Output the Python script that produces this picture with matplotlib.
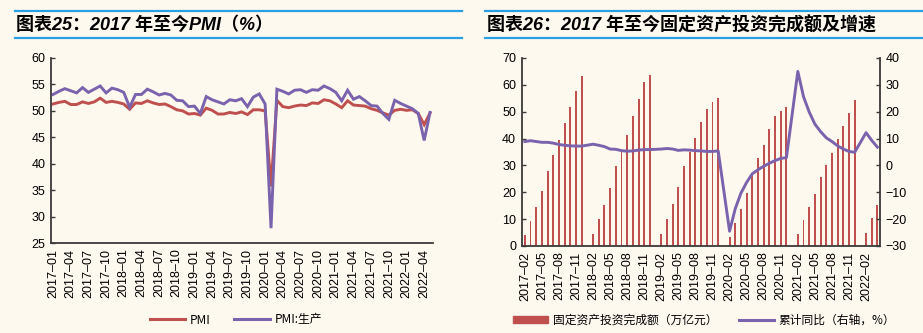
import numpy as np
import matplotlib.pyplot as plt
from matplotlib.lines import Line2D
from matplotlib.patches import Rectangle

CJK = ['Noto Sans CJK SC', 'DejaVu Sans']
TITLE_FONT = ['Liberation Sans', 'Noto Sans CJK SC']
plt.rcParams['font.family'] = ['Liberation Sans', 'DejaVu Sans']

# ---- PMI, monthly, 2017-01 .. 2022-05 ----
pmi = [51.3, 51.6, 51.8, 51.2, 51.2, 51.7, 51.4, 51.7, 52.4, 51.6, 51.8, 51.6,
       51.3, 50.3, 51.5, 51.4, 51.9, 51.5, 51.2, 51.3, 50.8, 50.2, 50.0, 49.4,
       49.5, 49.2, 50.5, 50.1, 49.4, 49.4, 49.7, 49.5, 49.8, 49.3, 50.2, 50.2,
       50.0, 35.7, 52.0, 50.8, 50.6, 50.9, 51.1, 51.0, 51.5, 51.4, 52.1, 51.9,
       51.3, 50.6, 51.9, 51.1, 51.0, 50.9, 50.4, 50.1, 49.6, 49.2, 50.1, 50.3,
       50.1, 50.2, 49.5, 47.4, 49.6]
pmi_prod = [53.1, 53.7, 54.2, 53.8, 53.4, 54.4, 53.5, 54.1, 54.7, 53.4, 54.3, 54.0,
            53.5, 50.7, 53.1, 53.1, 54.1, 53.6, 53.0, 53.3, 53.0, 52.0, 51.9, 50.8,
            50.9, 49.5, 52.7, 52.1, 51.7, 51.3, 52.1, 51.9, 52.3, 50.8, 52.6, 53.2,
            51.3, 27.8, 54.1, 53.7, 53.2, 53.9, 54.0, 53.5, 54.0, 53.9, 54.7, 54.2,
            53.5, 51.9, 53.9, 52.2, 52.7, 51.9, 51.0, 50.9, 49.5, 48.4, 52.0, 51.4,
            50.9, 50.4, 49.5, 44.4, 49.7]
pmi_start_year = 2017

# ---- Fixed asset investment, cumulative (Feb..Dec each year; Jan not published) ----
fai_years = [2017, 2018, 2019, 2020, 2021, 2022]
fai_amount = {
    2017: [4.1, 9.4, 14.6, 20.4, 28.1, 33.8, 39.5, 45.8, 51.8, 57.6, 63.2],
    2018: [4.5, 10.1, 15.4, 21.6, 29.7, 35.2, 41.4, 48.3, 54.8, 61.0, 63.6],
    2019: [4.5, 10.2, 15.6, 21.8, 29.9, 35.1, 40.2, 46.3, 51.1, 53.6, 55.2],
    2020: [3.3, 8.5, 13.6, 19.9, 27.2, 32.9, 37.6, 43.7, 48.5, 50.1, 51.9],
    2021: [4.5, 9.6, 14.4, 19.4, 25.6, 30.3, 34.7, 39.8, 44.5, 49.5, 54.5],
    2022: [5.0, 10.5, 15.3],
}
fai_growth = {
    2017: [8.9, 9.2, 8.9, 8.6, 8.6, 8.3, 7.8, 7.5, 7.3, 7.2, 7.2],
    2018: [7.9, 7.5, 7.0, 6.1, 6.0, 5.5, 5.3, 5.4, 5.7, 5.9, 5.9],
    2019: [6.1, 6.3, 6.1, 5.6, 5.8, 5.7, 5.5, 5.4, 5.2, 5.2, 5.4],
    2020: [-24.5, -16.1, -10.3, -6.3, -3.1, -1.6, -0.3, 0.8, 1.8, 2.6, 2.9],
    2021: [35.0, 25.6, 19.9, 15.4, 12.6, 10.3, 8.9, 7.3, 6.1, 5.2, 4.9],
    2022: [12.2, 9.3, 6.8],
}

RED = '#C0504D'
PURPLE = '#7B62AC'
BG = '#FEF9EF'
SPINE = '#3A3A3A'
BLUE = '#2A9FE2'
TICK_SIZE = 9

fig = plt.figure(figsize=(9.23, 3.33), dpi=100, facecolor=BG)

def style_axes(ax, sides):
    ax.set_facecolor(BG)
    for s in ['left', 'right', 'top', 'bottom']:
        ax.spines[s].set_visible(s in sides)
        ax.spines[s].set_color(SPINE)
        ax.spines[s].set_linewidth(1.3)
    ax.tick_params(axis='y', direction='in', length=3, width=1, color=SPINE,
                   labelsize=TICK_SIZE, pad=4)
    ax.tick_params(axis='x', length=0, labelsize=TICK_SIZE, pad=4)

# ================= left panel: PMI =================
ax1 = fig.add_axes([51 / 923, 1 - 243 / 333, (433 - 51) / 923, (243 - 58) / 333])
style_axes(ax1, ['left', 'bottom'])
n = len(pmi)
x = np.arange(n)
labels = [f'{pmi_start_year + i // 12}–{i % 12 + 1:02d}' for i in range(n)]
ax1.plot(x, pmi, color=RED, lw=2.1, solid_joinstyle='miter')
ax1.plot(x, pmi_prod, color=PURPLE, lw=2.1, solid_joinstyle='miter')
ax1.set_ylim(25, 60)
ax1.set_yticks(np.arange(25, 61, 5))
ax1.set_xlim(-0.35, n - 0.5)
ticks = x[::3][:22]
ax1.set_xticks(ticks)
ax1.set_xticklabels([labels[i] for i in ticks], rotation=90)

# ================= right panel: fixed asset investment =================
ax2 = fig.add_axes([521.7 / 923, 1 - 246 / 333, (880 - 521.7) / 923, (246 - 58) / 333])
style_axes(ax2, ['left', 'bottom', 'right'])
amt, grw, lab = [], [], []
for yr in fai_years:
    months = [1] + list(range(2, 2 + len(fai_amount[yr])))
    if yr == fai_years[0]:
        months = months[1:]
    for m in months:
        lab.append(f'{yr}–{m:02d}')
        if m == 1:
            amt.append(np.nan)
            grw.append(np.nan)
        else:
            amt.append(fai_amount[yr][m - 2])
            grw.append(fai_growth[yr][m - 2])
amt = np.array(amt)
grw = np.array(grw)
xi = np.arange(len(amt))
ax2.bar(xi, amt, width=0.34, color=RED, zorder=2)
ax2.set_ylim(0, 70)
ax2.set_yticks(np.arange(0, 71, 10))
ax2.set_xlim(-0.55, len(amt) - 0.55)
t2 = xi[::3][:21]
ax2.set_xticks(t2)
ax2.set_xticklabels([lab[i] for i in t2], rotation=90)

ax3 = ax2.twinx()
for s in ['left', 'right', 'top', 'bottom']:
    ax3.spines[s].set_visible(False)
ok = ~np.isnan(grw)
ax3.plot(xi[ok], grw[ok], color=PURPLE, lw=2.1, zorder=3)
ax3.set_ylim(-30, 40)
ax3.set_yticks(np.arange(-30, 41, 10))
ax3.set_yticklabels([f'{v}'.replace('-', '−') for v in range(-30, 41, 10)])
ax3.tick_params(axis='y', direction='in', length=3, width=1, color=SPINE,
                labelsize=TICK_SIZE, pad=4)

# ================= titles with blue rules =================
for x0, x1 in [(15 / 923, 462 / 923), (485 / 923, 1.0)]:
    for yy in [1 - 11 / 333, 1 - 38 / 333]:
        fig.add_artist(Line2D([x0, x1], [yy, yy], transform=fig.transFigure,
                              color=BLUE, lw=1.6))
fig.text(16 / 923, 1 - 25 / 333, '图表25：2017 年至今PMI（%）', family=TITLE_FONT,
         fontsize=13, fontweight='bold', style='italic', va='center', ha='left')
fig.text(487 / 923, 1 - 25 / 333, '图表26：2017 年至今固定资产投资完成额及增速',
         family=TITLE_FONT, fontsize=13, fontweight='bold', style='italic',
         va='center', ha='left')

# ================= legends =================
fig.legend(handles=[Line2D([], [], color=RED, lw=2.2),
                    Line2D([], [], color=PURPLE, lw=2.2)],
           labels=['PMI', 'PMI:生产'], loc='center', ncol=2,
           bbox_to_anchor=(236 / 923, 1 - 320 / 333), frameon=False,
           prop={'family': CJK, 'size': 8.5}, handlelength=3.0,
           columnspacing=2.0, handletextpad=0.4)
fig.legend(handles=[Rectangle((0, 0), 1, 1, color=RED),
                    Line2D([], [], color=PURPLE, lw=2.2)],
           labels=['固定资产投资完成额（万亿元）', '累计同比（右轴，%）'],
           loc='center', ncol=2,
           bbox_to_anchor=(704 / 923, 1 - 320 / 333), frameon=False,
           prop={'family': CJK, 'size': 8.5}, handlelength=3.0,
           handleheight=0.5, columnspacing=1.8, handletextpad=0.4)

fig.savefig('out.png', dpi=100, facecolor=BG)
